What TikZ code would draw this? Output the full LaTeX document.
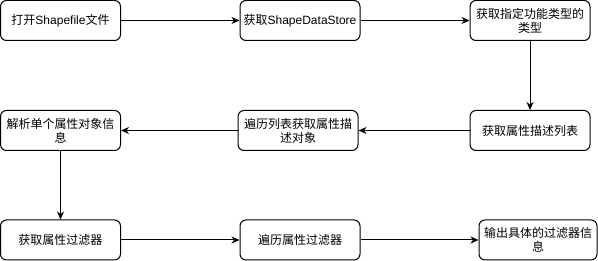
\documentclass[tikz,border=0pt]{standalone}
\usepackage{fontspec}
\setmainfont{Liberation Sans}
\newfontfamily\cjk{Noto Sans CJK SC}
\usetikzlibrary{arrows.meta}
\begin{document}
\begin{tikzpicture}[x=1pt,y=-1pt,
  box/.style={draw, rounded corners=6pt, minimum width=120pt, minimum height=40pt,
    line width=1pt, align=center, inner sep=1pt,
    font=\fontsize{12}{14}\selectfont},
  arr/.style={-{Stealth[length=8pt,width=7pt,inset=2.5pt]}, line width=1pt}]
\useasboundingbox (0,0) rectangle (598,261);
\node[box] (a) at (60.5,20.5) {{\cjk 打开}Shapefile{\cjk 文件}};
\node[box] (b) at (300,20.5) {{\cjk 获取}ShapeDataStore};
\node[box] (c) at (530,20.5) {\cjk 获取指定功能类型的\\\cjk 类型};
\node[box] (d) at (530,130.5) {\cjk 获取属性描述列表};
\node[box] (e) at (298,130.5) {\cjk 遍历列表获取属性描\\\cjk 述对象};
\node[box] (f) at (60.5,130.5) {\cjk 解析单个属性对象信\\\cjk 息};
\node[box] (g) at (60.5,240) {\cjk 获取属性过滤器};
\node[box] (h) at (300,240) {\cjk 遍历属性过滤器};
\node[box, minimum width=118pt] (i) at (538,240) {\cjk 输出具体的过滤器信\\\cjk 息};
\draw[arr] (a) -- (b);
\draw[arr] (b) -- (c);
\draw[arr] (c) -- (d);
\draw[arr] (d) -- (e);
\draw[arr] (e) -- (f);
\draw[arr] (f) -- (g);
\draw[arr] (g) -- (h);
\draw[arr] (h) -- (i);
\end{tikzpicture}
\end{document}
